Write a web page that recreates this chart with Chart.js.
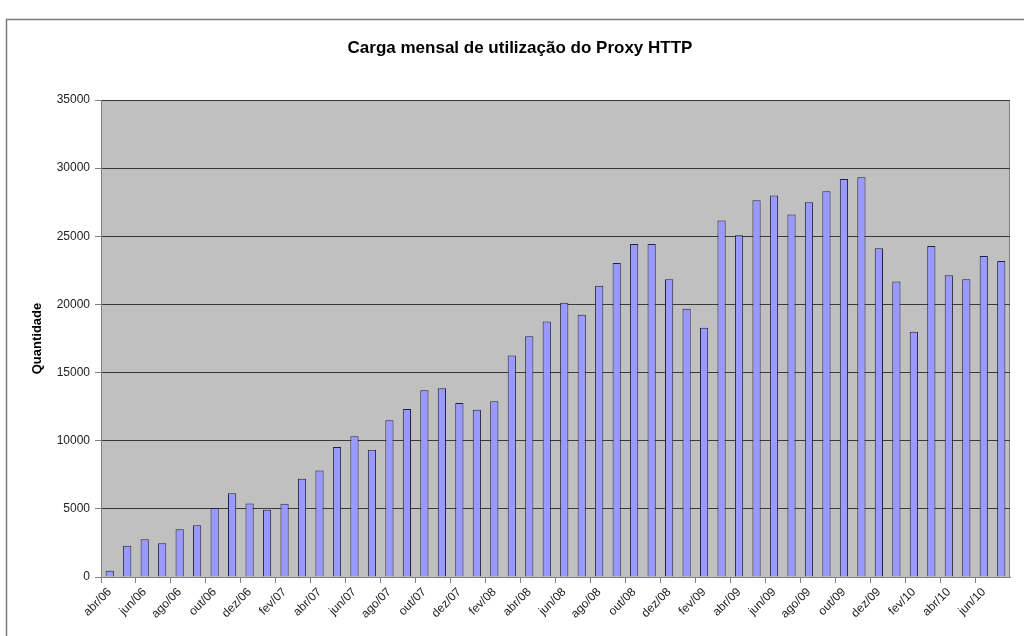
<!DOCTYPE html>
<html>
<head>
<meta charset="utf-8">
<title>Carga mensal de utilização do Proxy HTTP</title>
<script src="https://cdn.jsdelivr.net/npm/chart.js@4/dist/chart.umd.min.js"></script>
<style>
  html, body { margin: 0; padding: 0; background: #fff; overflow: hidden; }
  #wrap { position: absolute; left: 0; top: 0; width: 1040px; height: 636px; }
</style>
</head>
<body>
<div id="wrap"><canvas id="canvas" width="1040" height="636"></canvas></div>
<script>
// meses (abr/06 .. jul/10)
const meses = [
    'abr/06', 'mai/06', 'jun/06', 'jul/06', 'ago/06', 'set/06', 'out/06', 'nov/06', 'dez/06',
    'jan/07', 'fev/07', 'mar/07', 'abr/07', 'mai/07', 'jun/07', 'jul/07', 'ago/07', 'set/07',
    'out/07', 'nov/07', 'dez/07', 'jan/08', 'fev/08', 'mar/08', 'abr/08', 'mai/08', 'jun/08',
    'jul/08', 'ago/08', 'set/08', 'out/08', 'nov/08', 'dez/08', 'jan/09', 'fev/09', 'mar/09',
    'abr/09', 'mai/09', 'jun/09', 'jul/09', 'ago/09', 'set/09', 'out/09', 'nov/09', 'dez/09',
    'jan/10', 'fev/10', 'mar/10', 'abr/10', 'mai/10', 'jun/10', 'jul/10'
];

// quantidade de acessos por mes
const quantidade = [
    460, 2300, 2770, 2480, 3500, 3800, 5070, 6150, 5390,
    4930, 5370, 7200, 7820, 9530, 10320, 9340, 11500, 12330,
    13700, 13850, 12770, 12280, 12890, 16250, 17670, 18750, 20120,
    19240, 21370, 23040, 24430, 24430, 21840, 19680, 18280, 26150,
    25070, 27650, 27990, 26590, 27500, 28310, 29210, 29340, 24120,
    21690, 17990, 24290, 22150, 21840, 23550, 23190
];

const yMin = 0;
const yMax = 35000;
const yStep = 5000;

// fundo branco, moldura e area de plotagem cinza
const fundo = {
    id: 'fundo',
    beforeDraw(chart) {
        const ctx = chart.ctx;
        const a = chart.chartArea;
        ctx.save();
        ctx.fillStyle = '#ffffff';
        ctx.fillRect(0, 0, chart.width, chart.height);
        ctx.strokeStyle = '#7a7a7a';
        ctx.lineWidth = 1.5;
        ctx.strokeRect(6.5, 19.5, 1100, 700);
        ctx.fillStyle = '#c0c0c0';
        ctx.fillRect(a.left, a.top, a.right - a.left, a.bottom - a.top);
        ctx.strokeStyle = '#808080';
        ctx.lineWidth = 1;
        ctx.strokeRect(a.left + 0.5, a.top + 0.5, a.right - a.left - 1, a.bottom - a.top);
        ctx.restore();
    }
};

var config = {
    type: 'bar',
    data: {
        labels: meses,
        datasets: [{
            label: 'Quantidade',
            data: quantidade,
            backgroundColor: '#9999ff',
            borderColor: '#222244',
            borderWidth: 1,
            barPercentage: 0.47,
            categoryPercentage: 1.0
        }]
    },
    options: {
        responsive: false,
        devicePixelRatio: 1,
        animation: false,
        layout: {
            padding: { left: 30, right: 30, top: 0, bottom: 0 }
        },
        plugins: {
            legend: { display: false },
            tooltip: { enabled: false },
            title: {
                display: true,
                text: 'Carga mensal de utilização do Proxy HTTP',
                color: '#000',
                font: { family: 'Liberation Sans', size: 17, weight: 'bold' },
                padding: { top: 38, bottom: 41.6 }
            }
        },
        scales: {
            x: {
                afterFit: (s) => { s.height = 59; },
                border: { color: '#808080' },
                grid: {
                    offset: true,
                    drawOnChartArea: false,
                    tickLength: 6,
                    color: (c) => (c.index % 2 === 0 ? '#808080' : 'rgba(0,0,0,0)')
                },
                ticks: {
                    autoSkip: false,
                    minRotation: 45,
                    maxRotation: 45,
                    padding: 2,
                    color: '#222',
                    font: { family: 'Liberation Sans', size: 12 },
                    callback: function(v, i) { return i % 2 === 0 ? meses[i] : ''; }
                }
            },
            y: {
                min: yMin,
                max: yMax,
                afterFit: (s) => { s.width = 71; },
                border: { color: '#808080' },
                grid: {
                    color: '#3a3a3a',
                    tickColor: '#808080',
                    tickLength: 6
                },
                ticks: {
                    stepSize: yStep,
                    padding: 5,
                    color: '#222',
                    font: { family: 'Liberation Sans', size: 12 },
                    callback: (v) => String(v)
                },
                title: {
                    display: true,
                    text: 'Quantidade',
                    color: '#000',
                    font: { family: 'Liberation Sans', size: 13, weight: 'bold' },
                    padding: { top: 0, bottom: 0 }
                }
            }
        }
    },
    plugins: [fundo]
};

var ctx = document.getElementById('canvas').getContext('2d');
window.myChart = new Chart(ctx, config);
</script>
</body>
</html>
